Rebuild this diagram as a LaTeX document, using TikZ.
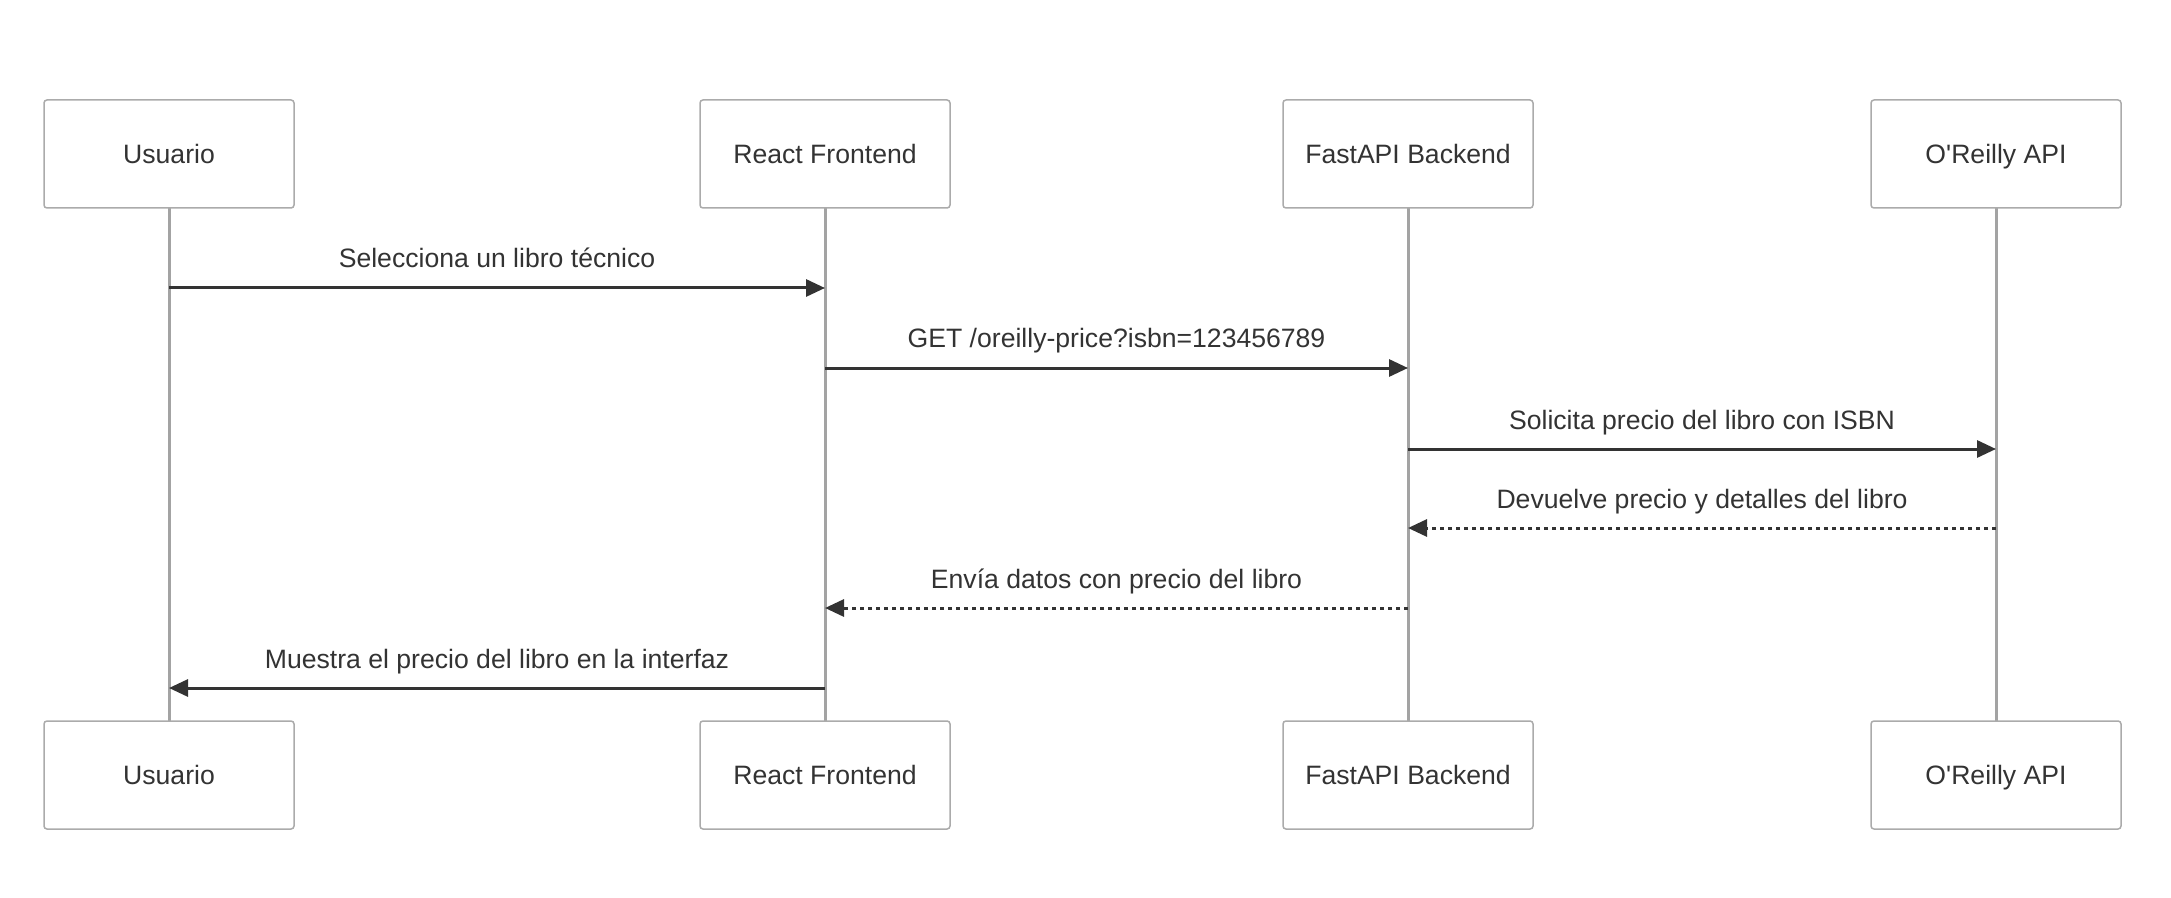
\documentclass[tikz,border=0pt]{standalone}
\usepackage{fontspec}
\setmainfont{Liberation Sans}
\usetikzlibrary{arrows.meta, calc}
\usepackage{xcolor}
\definecolor{ink}{HTML}{333333}
\definecolor{lifegray}{HTML}{A3A3A3}
\definecolor{boxgray}{HTML}{ABABAB}

\begin{document}
\begin{tikzpicture}[x=0.5pt, y=-0.5pt,
    actorbox/.style={draw=boxgray, line width=0.75pt, fill=white, rounded corners=1.5pt,
        minimum width=125pt, minimum height=54pt, inner sep=0pt, text=ink,
        font=\fontsize{13.3pt}{16pt}\selectfont, text height=9.6pt, text depth=0pt},
    lifeline/.style={draw=lifegray, line width=1.5pt},
    msg/.style={draw=ink, line width=1.5pt, -{Triangle[length=9.5pt, width=8.5pt]}},
    reply/.style={msg, dash pattern=on 2pt off 2pt},
    msglabel/.style={midway, anchor=base, yshift=10pt, inner sep=0pt, text=ink,
        font=\fontsize{13.3pt}{16pt}\selectfont}]

        % Page size and background
        \fill[white] (0,0) rectangle (2171,898);
        \useasboundingbox (0,0) rectangle (2171,898);

        % Actors on top and bottom, with their lifelines
        \foreach \id/\x/\name in {u/169/Usuario, r/825/React Frontend, f/1408/FastAPI Backend, o/1996/O\textquotesingle Reilly API} {
            \draw[lifeline] (\x,208) -- (\x,721); % lifeline
            \node[actorbox] (\id top) at (\x,154) {\name};
            \node[actorbox] (\id bot) at (\x,775) {\name};
        }

        % Message levels on the lifelines
        \foreach \id in {u, r, f, o} {
            \foreach \n/\y in {1/288, 2/368, 3/449, 4/528, 5/608, 6/688} {
                \coordinate (\id\n) at ($(\id top.center) + (0,\y-154)$);
            }
        }

        % Requests
        \draw[msg] (u1) -- node[msglabel] {Selecciona un libro técnico} (r1);
        \draw[msg] (r2) -- node[msglabel] {GET /oreilly-price?isbn=123456789} (f2);
        \draw[msg] (f3) -- node[msglabel] {Solicita precio del libro con ISBN} (o3);

        % Replies
        \draw[reply] (o4) -- node[msglabel] {Devuelve precio y detalles del libro} (f4);
        \draw[reply] (f5) -- node[msglabel] {Envía datos con precio del libro} (r5);
        \draw[msg] (r6) -- node[msglabel] {Muestra el precio del libro en la interfaz} (u6);

\end{tikzpicture}
\end{document}
